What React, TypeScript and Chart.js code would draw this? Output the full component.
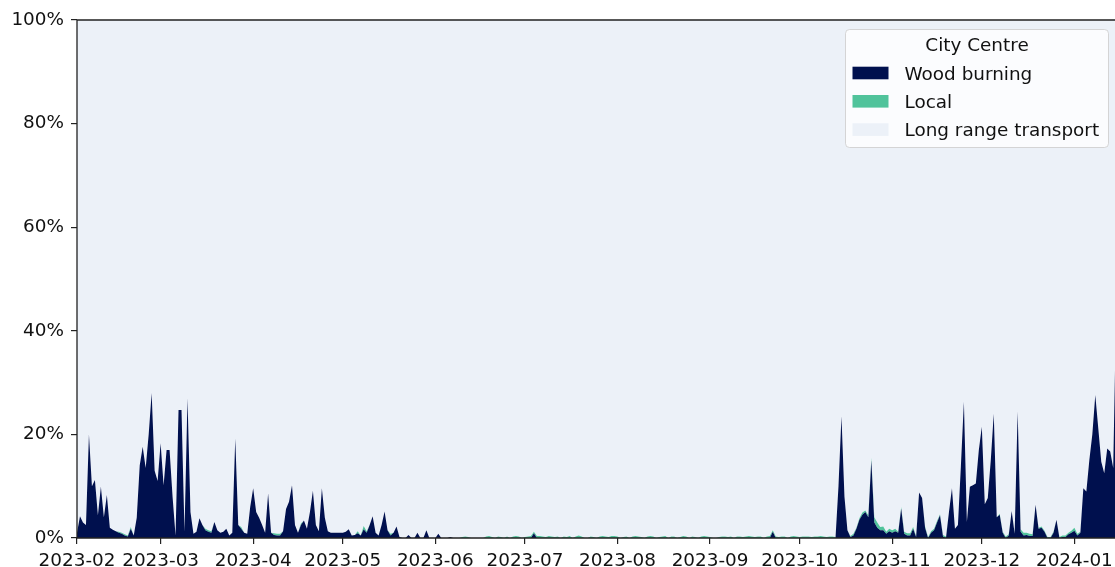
import React, { useEffect, useRef } from "react";
import { Chart, registerables } from "chart.js";

Chart.register(...registerables);

// ---- data (daily shares in %, first day = 2023-02-01) ----
const startDateUTC = Date.UTC(2023, 1, 1);
const seriesNames = ["Wood burning", "Local", "Long range transport"];
const seriesColors = ["#00104e", "#50c39b", "#ecf1f8"];
const legendTitle = "City Centre";

const tickLabels = [
  "2023-02", "2023-03", "2023-04", "2023-05", "2023-06", "2023-07",
  "2023-08", "2023-09", "2023-10", "2023-11", "2023-12", "2024-01",
];
const yTicks = [0, 20, 40, 60, 80, 100];
const xViewEndDays = 347.6;

const woodFeb = [1.0, 4.2, 3.0, 2.5, 20, 10, 11.2, 4.4, 9.9, 4, 8.3, 2, 1.6, 1.3, 1.0, 0.8, 0.5, 0.3, 1.8, 0.5, 3.9, 14, 17.6, 13.5, 20, 28, 13, 11];
const woodMar = [18.3, 10.2, 17, 17, 8, 0.5, 24.7, 24.7, 1.2, 27, 5, 0.8, 1.2, 3.8, 2.5, 1.5, 1.2, 1.0, 3.1, 1.5, 1.0, 1.2, 1.8, 0.5, 1.0, 19.2, 2.5, 1.8, 1.0, 0.8, 6];
const woodApr = [9.6, 5, 3.9, 2.5, 1.0, 8.6, 1.0, 0.6, 0.5, 0.5, 1.3, 5.6, 7, 10.2, 2.5, 1.0, 2.5, 3.4, 1.8, 5, 9.1, 2.5, 1.3, 9.6, 3.9, 1.3, 1.0, 1.0, 1.0, 1.0];
const woodMay = [1.0, 1.2, 1.7, 0.5, 0.6, 0.9, 0.5, 1.7, 1.0, 2.5, 4.2, 1.0, 0.5, 2.5, 5.1, 1.5, 0.5, 1.0, 2.2, 0.2, 0, 0, 0.6, 0, 0, 1.0, 0, 0, 1.5, 0, 0];
const woodJun = [0, 0.8, 0, 0, 0, 0.2, 0, 0, 0, 0, 0, 0, 0, 0, 0, 0, 0, 0, 0, 0, 0, 0, 0, 0, 0, 0, 0, 0, 0, 0];
const woodJul = [0, 0, 0, 0.9, 0, 0, 0, 0, 0, 0, 0, 0, 0, 0, 0, 0, 0, 0, 0, 0, 0, 0, 0, 0, 0, 0, 0, 0, 0, 0, 0];
const woodAug = [0, 0, 0, 0, 0, 0, 0, 0, 0, 0, 0, 0, 0, 0, 0, 0, 0, 0, 0, 0, 0, 0, 0, 0, 0, 0, 0, 0, 0, 0, 0];
const woodSep = [0, 0, 0, 0, 0, 0, 0, 0, 0, 0, 0, 0, 0, 0, 0, 0, 0, 0, 0, 0, 0, 1.2, 0, 0, 0, 0, 0, 0, 0, 0];
const woodOct = [0, 0, 0, 0, 0, 0, 0, 0, 0, 0, 0, 0, 0, 10, 23.5, 8, 1.5, 0.2, 0.5, 1.8, 3.5, 4.5, 5, 4, 15, 3, 2, 1.5, 1.5, 0.8, 1.3];
const woodNov = [1.0, 1.3, 1.0, 5.7, 0.8, 0.5, 0.5, 1.8, 0.2, 8.8, 7.7, 2, 0, 1, 1.5, 3, 4.4, 0.3, 0, 5, 9.6, 1.8, 2.5, 14, 26.3, 3.1, 9.9, 10.2, 10.5, 17];
const woodDec = [21.5, 6.5, 7.7, 15, 24, 4, 4.5, 1, 0, 0.5, 5.2, 0.8, 24.4, 1.2, 0.5, 0.6, 0.4, 0.4, 6.4, 1.8, 2.0, 1.2, 0, 0, 1, 3.5, 0, 0.2, 0.2, 0.7, 1.0];
const woodJan = [1.4, 0.5, 1.0, 9.6, 9, 15, 20, 27.6, 21.2, 14.7, 12.5, 17.3, 16.7, 13.5, 45];

const localFeb = [0, 0, 0, 0, 0, 0, 0, 0, 0, 0, 0, 0, 0, 0, 0.2, 0.2, 0.2, 0.2, 0.3, 0, 0, 0, 0, 0, 0, 0, 0, 0];
const localMar = [0, 0, 0, 0, 0, 0, 0, 0, 0, 0, 0, 0, 0, 0, 0, 0.3, 0.3, 0.3, 0, 0, 0, 0, 0, 0, 0, 0, 0, 0.3, 0, 0, 0];
const localApr = [0, 0, 0, 0, 0, 0, 0, 0.3, 0.3, 0.3, 0, 0, 0, 0, 0, 0, 0.3, 0, 0, 0, 0, 0, 0, 0, 0, 0, 0, 0, 0, 0];
const localMay = [0, 0, 0, 0, 0, 0.4, 0, 0.6, 0.3, 0, 0, 0, 0, 0, 0, 0, 0.3, 0, 0, 0, 0, 0, 0, 0, 0, 0, 0, 0, 0, 0, 0];
const localJun = [0, 0, 0, 0, 0, 0, 0, 0, 0, 0.2, 0.3, 0.2, 0, 0, 0, 0, 0, 0.3, 0.4, 0.2, 0, 0.3, 0.2, 0, 0.3, 0, 0.3, 0.4, 0.3, 0];
const localJul = [0.2, 0.3, 0.4, 0.3, 0.4, 0.4, 0.3, 0.2, 0.4, 0.3, 0.2, 0.3, 0, 0.3, 0.2, 0.4, 0, 0.3, 0.5, 0.3, 0, 0, 0.3, 0.2, 0, 0.3, 0.4, 0.3, 0.2, 0.4, 0.4];
const localAug = [0.3, 0, 0.2, 0.3, 0, 0.3, 0.4, 0.3, 0.2, 0, 0.3, 0.4, 0.3, 0, 0.2, 0.3, 0.4, 0, 0.3, 0.3, 0, 0.2, 0.4, 0.3, 0, 0.3, 0.2, 0, 0.3, 0.4, 0.3];
const localSep = [0.2, 0, 0, 0.2, 0.3, 0.3, 0.2, 0.3, 0, 0.3, 0.3, 0.2, 0.3, 0.4, 0.3, 0.2, 0.3, 0.3, 0, 0.3, 0.4, 0.3, 0.3, 0.2, 0.3, 0.3, 0, 0.3, 0.4, 0.3];
const localOct = [0.2, 0.3, 0.3, 0.3, 0.2, 0.3, 0.3, 0.4, 0.3, 0.2, 0.3, 0.3, 0.2, 0, 0, 0, 0, 0.2, 0.3, 0.2, 0.3, 0.4, 0.3, 0.4, 0.5, 1.0, 1.0, 0.6, 0.7, 0.4, 0.5];
const localNov = [0.5, 0.5, 0.2, 0.3, 0.4, 0.4, 0.4, 0.3, 0.2, 0, 0, 0.2, 0.2, 0.3, 0.3, 0.3, 0.2, 0.3, 0.3, 0, 0, 0, 0, 0, 0, 0, 0, 0, 0, 0];
const localDec = [0, 0, 0, 0, 0, 0, 0.2, 0.2, 0.3, 0.2, 0, 0.2, 0, 0.5, 0.5, 0.4, 0.4, 0.3, 0, 0.2, 0.2, 0.2, 0.2, 0.2, 0.2, 0, 0.2, 0.3, 0.3, 0.3, 0.4];
const localJan = [0.6, 0.3, 0.2, 0, 0, 0, 0, 0, 0, 0, 0, 0, 0, 0, 0];

const woodBurning = [
  ...woodFeb, ...woodMar, ...woodApr, ...woodMay, ...woodJun, ...woodJul,
  ...woodAug, ...woodSep, ...woodOct, ...woodNov, ...woodDec, ...woodJan,
];
const localShare = [
  ...localFeb, ...localMar, ...localApr, ...localMay, ...localJun, ...localJul,
  ...localAug, ...localSep, ...localOct, ...localNov, ...localDec, ...localJan,
];
const longRange = woodBurning.map((w, i) => 100 - w - localShare[i]);

const dayOfLabel = (label: string) => {
  const [y, m] = label.split("-").map(Number);
  return (Date.UTC(y, m - 1, 1) - startDateUTC) / 86400000;
};
const tickDays = tickLabels.map(dayOfLabel);

const FONT = "DejaVu Sans";
const FONT_SIZE = 18.4;
const TEXT = "#111111";
const SPINE = "#222222";

const framePlugin = {
  id: "frame",
  afterDatasetsDraw(chart: any) {
    const { ctx, chartArea: a } = chart;
    ctx.save();
    ctx.strokeStyle = SPINE;
    ctx.lineWidth = 1.3;
    ctx.beginPath();
    ctx.moveTo(a.left, a.top);
    ctx.lineTo(a.right + 2, a.top);
    ctx.moveTo(a.left, a.top);
    ctx.lineTo(a.left, a.bottom);
    ctx.lineTo(a.right + 2, a.bottom);
    ctx.stroke();
    ctx.restore();
  },
};

const legendPlugin = {
  id: "boxLegend",
  afterDraw(chart: any) {
    const { ctx, chartArea: a } = chart;
    const right = a.right - 6.5;
    const top = a.top + 9.5;
    const w = 263;
    const h = 118;
    const left = right - w;
    ctx.save();
    ctx.beginPath();
    ctx.roundRect(left, top, w, h, 4);
    ctx.fillStyle = "rgba(255,255,255,0.8)";
    ctx.fill();
    ctx.strokeStyle = "rgba(204,204,204,0.8)";
    ctx.lineWidth = 1;
    ctx.stroke();

    ctx.font = `${FONT_SIZE}px "${FONT}"`;
    ctx.fillStyle = TEXT;
    ctx.textAlign = "center";
    ctx.textBaseline = "alphabetic";
    ctx.fillText(legendTitle, left + w / 2, top + 21.5);

    ctx.textAlign = "left";
    seriesNames.forEach((name, i) => {
      const cy = top + 43.5 + i * 28.3;
      ctx.fillStyle = seriesColors[i];
      ctx.fillRect(left + 7, cy - 6.3, 36, 12.6);
      ctx.fillStyle = TEXT;
      ctx.fillText(name, left + 59, cy + 6.5);
    });
    ctx.restore();
  },
};

export default function App() {
  const ref = useRef<HTMLCanvasElement>(null);

  useEffect(() => {
    document.body.style.margin = "0";
    const canvas = ref.current;
    if (!canvas) return;
    Chart.defaults.font.family = FONT;
    Chart.defaults.font.size = FONT_SIZE;
    Chart.defaults.color = TEXT;

    const toPts = (arr: number[]) => arr.map((v, i) => ({ x: i, y: v }));
    const stacks = [woodBurning, localShare, longRange];

    const chart = new Chart(canvas, {
      type: "line",
      data: {
        datasets: stacks.map((arr, i) => ({
          label: seriesNames[i],
          data: toPts(arr),
          backgroundColor: seriesColors[i],
          borderColor: "rgba(0,0,0,0)",
          borderWidth: 0,
          pointRadius: 0,
          tension: 0,
          fill: i === 0 ? "origin" : "-1",
        })),
      },
      options: {
        animation: false,
        responsive: false,
        devicePixelRatio: 1,
        layout: { padding: { top: 20, right: 0, left: 0, bottom: 0 } },
        plugins: { legend: { display: false }, tooltip: { enabled: false } },
        scales: {
          x: {
            type: "linear",
            min: 0,
            max: xViewEndDays,
            grid: {
              drawOnChartArea: false,
              drawTicks: true,
              tickLength: 6,
              color: SPINE,
              lineWidth: 1.2,
            },
            border: { display: false },
            afterBuildTicks: (s: any) => {
              s.ticks = tickDays.map((v) => ({ value: v }));
            },
            afterFit: (s: any) => {
              s.height = 29;
              s.paddingLeft = 0;
              s.paddingRight = 0;
            },
            ticks: {
              autoSkip: false,
              maxRotation: 0,
              minRotation: 0,
              padding: 6,
              color: TEXT,
              font: { family: FONT, size: FONT_SIZE },
              callback: (_v: any, idx: number) => tickLabels[idx],
            },
          },
          y: {
            stacked: true,
            min: 0,
            max: 100,
            grid: {
              drawOnChartArea: false,
              drawTicks: true,
              tickLength: 6,
              color: SPINE,
              lineWidth: 1.2,
            },
            border: { display: false },
            afterBuildTicks: (s: any) => {
              s.ticks = yTicks.map((v) => ({ value: v }));
            },
            afterFit: (s: any) => {
              s.width = 77;
              s.paddingTop = 0;
              s.paddingBottom = 0;
            },
            ticks: {
              padding: 7,
              color: TEXT,
              font: { family: FONT, size: FONT_SIZE },
              callback: (v: any) => `${v}%`,
            },
          },
        },
      },
      plugins: [framePlugin, legendPlugin],
    } as any);

    return () => chart.destroy();
  }, []);

  return (
    <div style={{ width: 1115, height: 567, overflow: "hidden", position: "relative" }}>
      <canvas ref={ref} width={1115} height={567} style={{ width: 1115, height: 567, display: "block" }} />
    </div>
  );
}
